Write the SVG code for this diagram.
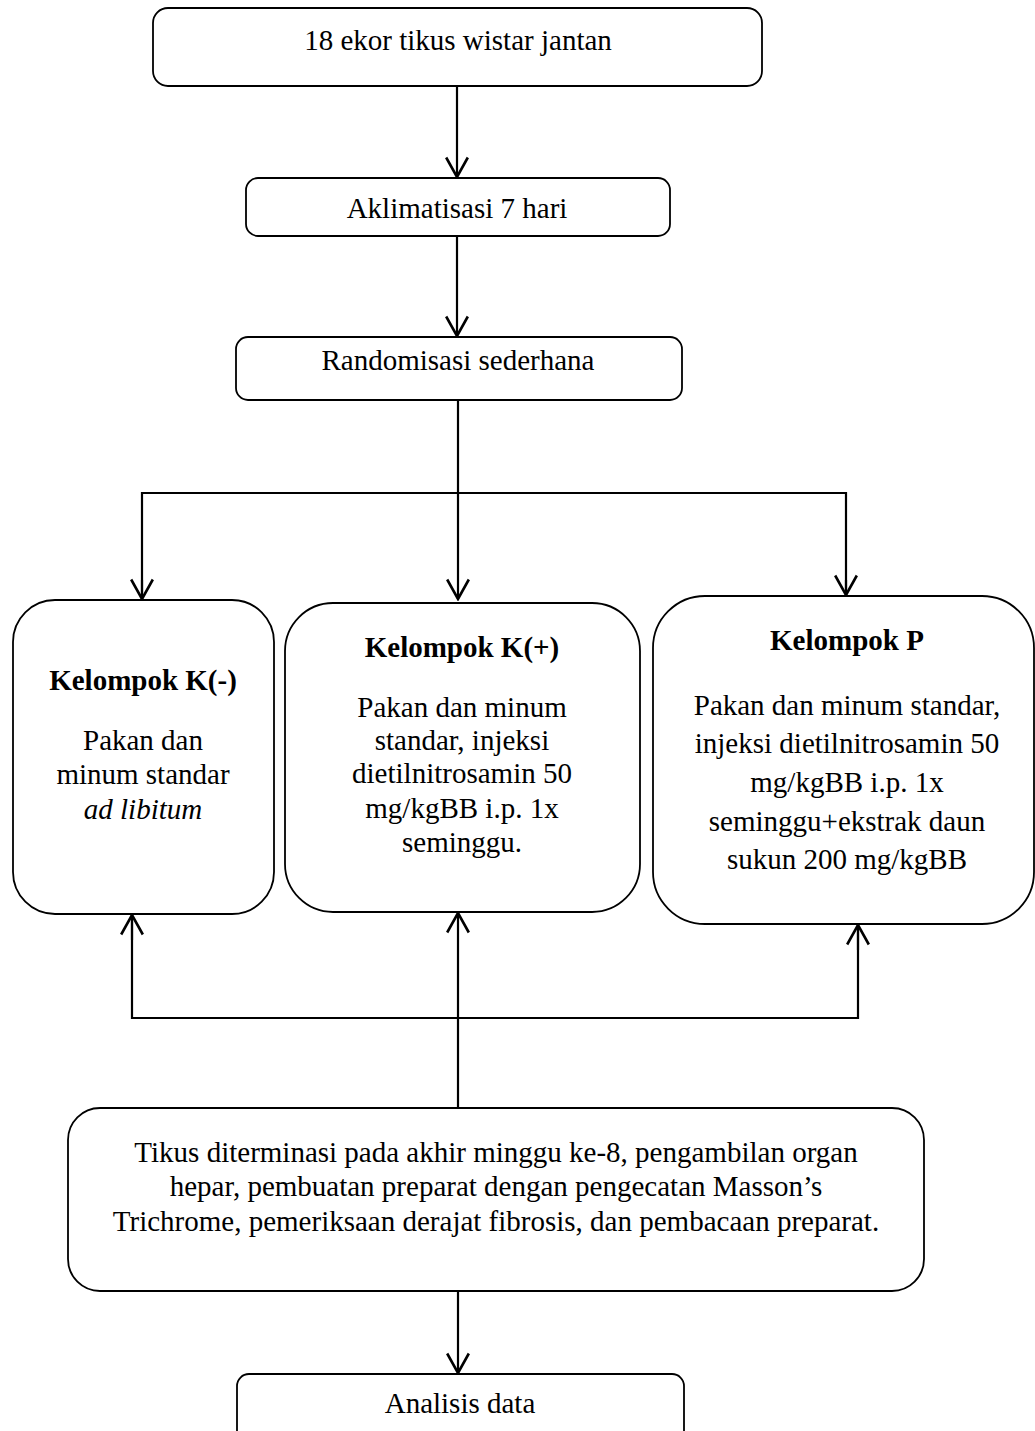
<svg xmlns="http://www.w3.org/2000/svg" width="1035" height="1431" viewBox="0 0 1035 1431">
<style>
.box{fill:#fff;stroke:#000;stroke-width:1.8}
.t{font-family:"Liberation Serif","Times New Roman",serif;font-size:29px;fill:#000;text-anchor:middle}
.b{font-weight:bold}
.i{font-style:italic}
.c{fill:none;stroke:#000;stroke-width:2.2}
</style>
<defs>
<marker id="ah" markerUnits="userSpaceOnUse" markerWidth="24" markerHeight="26" viewBox="-20 -12 22 24" refX="0" refY="0" orient="auto">
<path d="M-18,-10 L0,0 L-18,10" fill="none" stroke="#000" stroke-width="2.4"/>
</marker>
</defs>
<rect width="1035" height="1431" fill="#fff"/>
<g id="connectors">
<line class="c" x1="457" y1="86" x2="457" y2="177" marker-end="url(#ah)"/>
<line class="c" x1="457" y1="236" x2="457" y2="336" marker-end="url(#ah)"/>
<line class="c" x1="458" y1="400" x2="458" y2="599" marker-end="url(#ah)"/>
<polyline class="c" points="142,599 142,493 846,493 846,595"/>
<line class="c" x1="142" y1="580" x2="142" y2="599" marker-end="url(#ah)"/>
<line class="c" x1="846" y1="580" x2="846" y2="595" marker-end="url(#ah)"/>
<line class="c" x1="458" y1="1108" x2="458" y2="913" marker-end="url(#ah)"/>
<polyline class="c" points="132,915 132,1018 858,1018 858,925"/>
<line class="c" x1="132" y1="940" x2="132" y2="915" marker-end="url(#ah)"/>
<line class="c" x1="858" y1="950" x2="858" y2="925" marker-end="url(#ah)"/>
<line class="c" x1="458" y1="1291" x2="458" y2="1373" marker-end="url(#ah)"/>
</g>
<g id="n1">
<rect class="box" x="153" y="8" width="609" height="78" rx="15"/>
<text class="t" x="458" y="50">18 ekor tikus wistar jantan</text>
</g>
<g id="n2">
<rect class="box" x="246" y="178" width="424" height="58" rx="12"/>
<text class="t" x="457" y="218">Aklimatisasi 7 hari</text>
</g>
<g id="n3">
<rect class="box" x="236" y="337" width="446" height="63" rx="12"/>
<text class="t" x="458" y="370">Randomisasi sederhana</text>
</g>
<g id="kneg">
<rect class="box" x="13" y="600" width="261" height="314" rx="42"/>
<text class="t b" x="143" y="690">Kelompok K(-)</text>
<text class="t" x="143" y="750">Pakan dan</text>
<text class="t" x="143" y="784">minum standar</text>
<text class="t i" x="143" y="819">ad libitum</text>
</g>
<g id="kpos">
<rect class="box" x="285" y="603" width="355" height="309" rx="48"/>
<text class="t b" x="462" y="657">Kelompok K(+)</text>
<text class="t" x="462" y="717">Pakan dan minum</text>
<text class="t" x="462" y="750">standar, injeksi</text>
<text class="t" x="462" y="783">dietilnitrosamin 50</text>
<text class="t" x="462" y="818">mg/kgBB i.p. 1x</text>
<text class="t" x="462" y="852">seminggu.</text>
</g>
<g id="kp">
<rect class="box" x="653" y="596" width="381" height="328" rx="52"/>
<text class="t b" x="847" y="650">Kelompok P</text>
<text class="t" x="847" y="715">Pakan dan minum standar,</text>
<text class="t" x="847" y="753">injeksi dietilnitrosamin 50</text>
<text class="t" x="847" y="792">mg/kgBB i.p. 1x</text>
<text class="t" x="847" y="831">seminggu+ekstrak daun</text>
<text class="t" x="847" y="869">sukun 200 mg/kgBB</text>
</g>
<g id="n4">
<rect class="box" x="68" y="1108" width="856" height="183" rx="32"/>
<text class="t" x="496" y="1162">Tikus diterminasi pada akhir minggu ke-8, pengambilan organ</text>
<text class="t" x="496" y="1196">hepar, pembuatan preparat dengan pengecatan Masson’s</text>
<text class="t" x="496" y="1231">Trichrome, pemeriksaan derajat fibrosis, dan pembacaan preparat.</text>
</g>
<g id="n5">
<rect class="box" x="237" y="1374" width="447" height="70" rx="12"/>
<text class="t" x="460" y="1413">Analisis data</text>
</g>
</svg>
